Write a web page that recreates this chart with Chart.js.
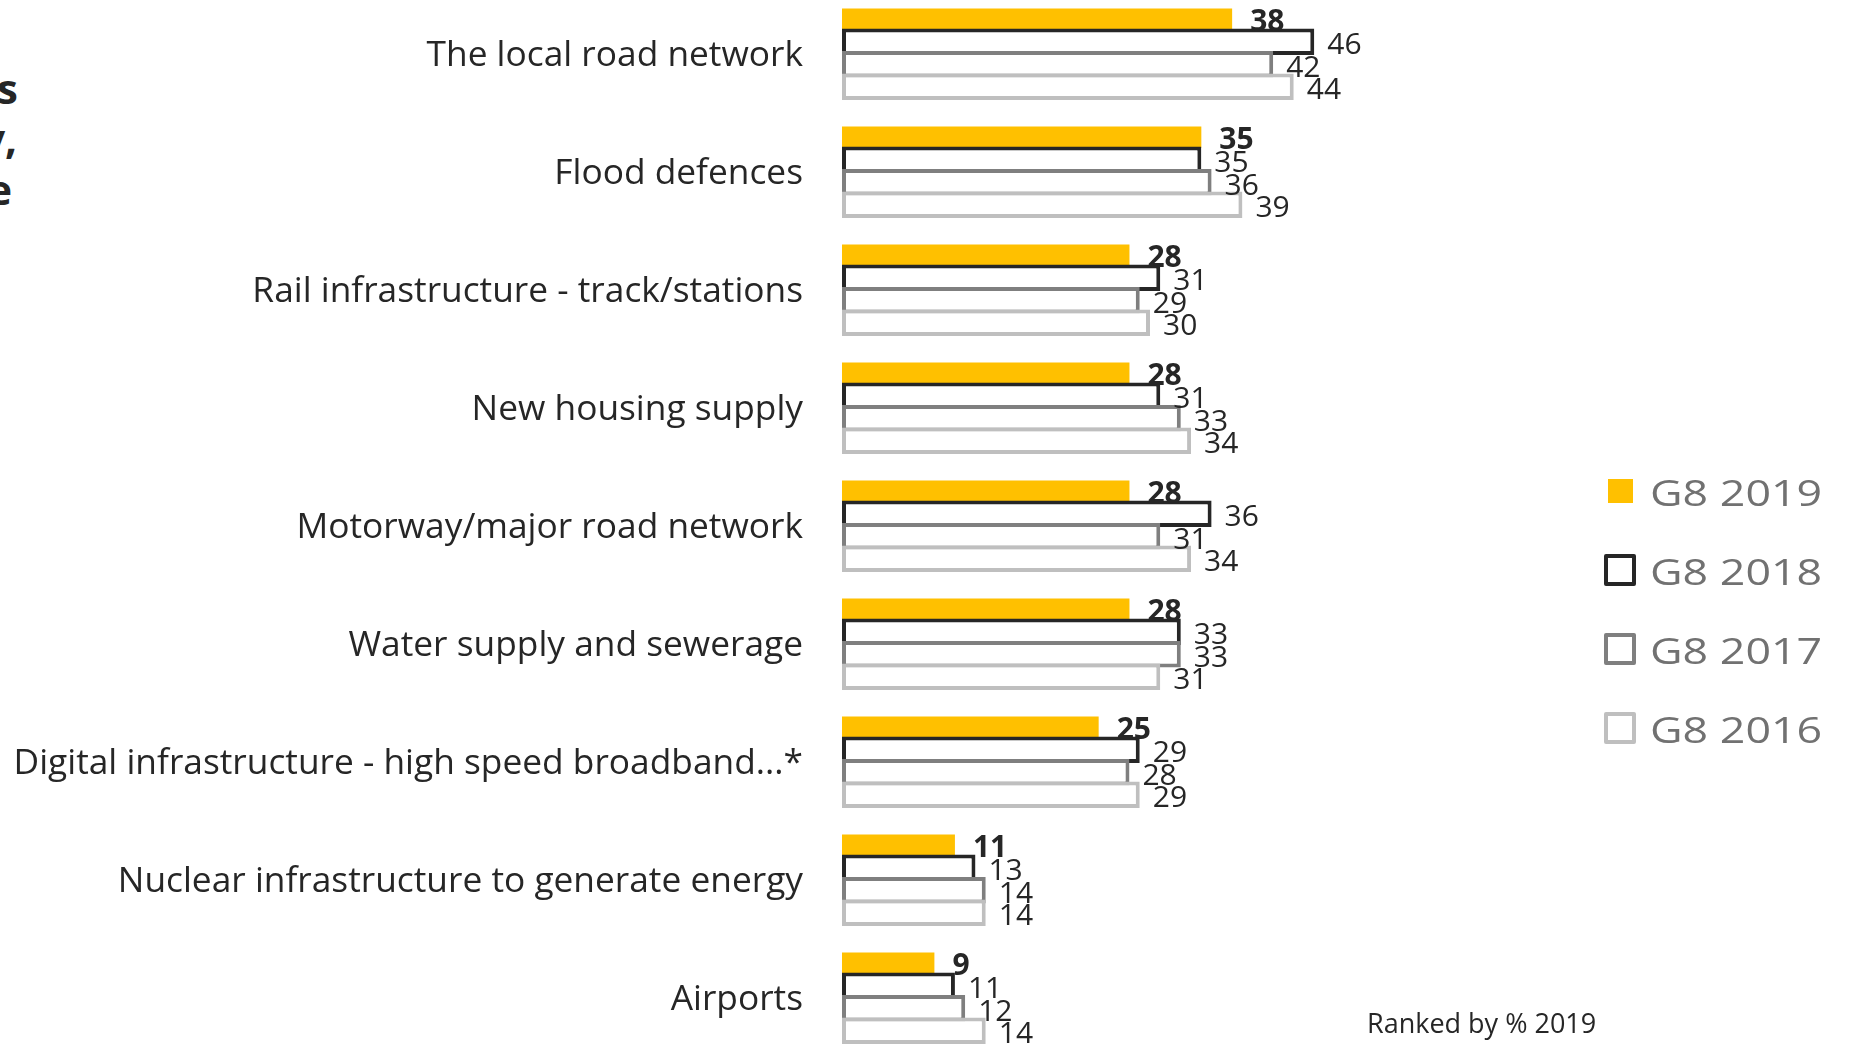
<!DOCTYPE html>
<html>
<head>
<meta charset="utf-8">
<script src="https://cdn.jsdelivr.net/npm/chart.js@4.4.1/dist/chart.umd.min.js"></script>
<style>
  html, body { margin: 0; padding: 0; width: 1849px; height: 1045px; overflow: hidden; background: #fff; }
  body { position: relative; font-family: 'Open Sans', sans-serif; color: #262626; }
  #chart { position: absolute; left: 0; top: -6px; }
  .frag { position: absolute; font-weight: 700; font-size: 42px; white-space: nowrap; text-align: right; }
  .legend-row { position: absolute; left: 1600px; height: 80px; display: flex; align-items: center; }
  .legend-box { box-sizing: border-box; }
  .legend-text { font-size: 37px; color: #717171; transform: scaleX(1.21); transform-origin: left center; white-space: nowrap; }
  #note { position: absolute; left: 1367px; top: 1004px; font-size: 27px; white-space: nowrap; }
</style>
</head>
<body>
<div class="frag" style="right:1831px; top:59px;">s</div>
<div class="frag" style="right:1832px; top:109px;">y,</div>
<div class="frag" style="right:1837px; top:160px;">e</div>

<canvas id="chart" width="1849" height="1062"></canvas>
<div id="legend"></div>
<div id="note">Ranked by % 2019</div>

<script>
const categories = [
  'The local road network',
  'Flood defences',
  'Rail infrastructure - track/stations',
  'New housing supply',
  'Motorway/major road network',
  'Water supply and sewerage',
  'Digital infrastructure - high speed broadband...*',
  'Nuclear infrastructure to generate energy',
  'Airports'
];
const g8_2019 = [38, 35, 28, 28, 28, 28, 25, 11, 9];
const g8_2018 = [46, 35, 31, 31, 36, 33, 29, 13, 11];
const g8_2017 = [42, 36, 29, 33, 31, 33, 28, 14, 12];
const g8_2016 = [44, 39, 30, 34, 34, 31, 29, 14, 14];
const seriesNames = ['G8 2019', 'G8 2018', 'G8 2017', 'G8 2016'];

const yellow = '#FFC000';
const outlineColors = ['#262626', '#7F7F7F', '#BFBFBF'];

// draw datasets in index order so later years sit on top of earlier ones
const drawOrder = {
  id: 'drawOrder',
  beforeDatasetsDraw(chart) {
    chart.getSortedVisibleDatasetMetas().forEach(meta => meta.controller.draw());
    return false;
  }
};

const valueLabels = {
  id: 'valueLabels',
  afterDraw(chart) {
    const ctx = chart.ctx;
    ctx.save();
    ctx.fillStyle = '#262626';
    ctx.textAlign = 'left';
    ctx.textBaseline = 'alphabetic';
    chart.data.datasets.forEach((ds, i) => {
      const meta = chart.getDatasetMeta(i);
      const bold = i === 0;
      ctx.font = (bold ? '700 ' : '400 ') + '30px "Open Sans"';
      meta.data.forEach((bar, j) => {
        ctx.fillText(ds.data[j], bar.x + (bold ? 18 : 13), bar.y + (bold ? 11.5 : 12.5));
      });
    });
    ctx.restore();
  }
};

const outlined = (label, data, color) => ({
  label: label,
  data: data,
  backgroundColor: '#ffffff',
  borderColor: color,
  borderWidth: 4,
  borderSkipped: false
});

const chart = new Chart(document.getElementById('chart'), {
  type: 'bar',
  data: {
    labels: categories,
    datasets: [
      { label: seriesNames[0], data: g8_2019, backgroundColor: yellow, borderWidth: 0, barPercentage: 0.95 },
      outlined(seriesNames[1], g8_2018, outlineColors[0]),
      outlined(seriesNames[2], g8_2017, outlineColors[1]),
      outlined(seriesNames[3], g8_2016, outlineColors[2])
    ]
  },
  options: {
    indexAxis: 'y',
    responsive: false,
    animation: false,
    devicePixelRatio: 1,
    categoryPercentage: 0.763,
    barPercentage: 1.18,
    layout: { padding: { left: 0, right: 391, top: 0, bottom: 0 } },
    plugins: {
      legend: { display: false },
      tooltip: { enabled: false }
    },
    scales: {
      x: { display: false, min: 0, max: 60 },
      y: {
        grid: { display: false, drawTicks: false },
        border: { display: false },
        ticks: {
          color: '#262626',
          padding: 39,
          labelOffset: 2.5,
          font: { family: 'Open Sans', size: 35.3 }
        },
        afterFit(scale) {
          scale.width = 842;
          scale.paddingTop = 0;
          scale.paddingBottom = 0;
        }
      }
    }
  },
  plugins: [drawOrder, valueLabels]
});

// legend built from the same series names / colours
const legendCenters = [491, 570, 649, 728];
const legend = document.getElementById('legend');
seriesNames.forEach((name, i) => {
  const row = document.createElement('div');
  row.className = 'legend-row';
  row.style.top = (legendCenters[i] - 40) + 'px';
  const box = document.createElement('div');
  box.className = 'legend-box';
  if (i === 0) {
    box.style.cssText = 'width:25px;height:24px;background:' + yellow + ';margin-left:8px;margin-right:17px;';
  } else {
    box.style.cssText = 'width:32px;height:32px;border:4px solid ' + outlineColors[i - 1] + ';border-radius:2px;margin-left:4px;margin-right:14px;';
  }
  const txt = document.createElement('span');
  txt.className = 'legend-text';
  txt.textContent = name;
  row.appendChild(box);
  row.appendChild(txt);
  legend.appendChild(row);
});
</script>
</body>
</html>
